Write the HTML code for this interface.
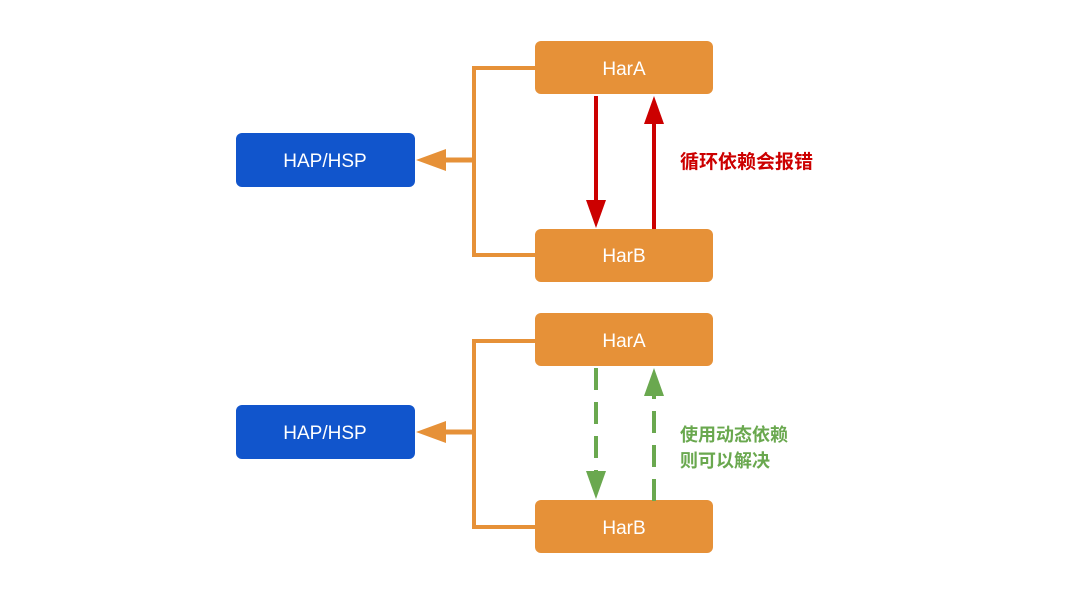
<!DOCTYPE html>
<html><head><meta charset="utf-8"><style>
body{margin:0;background:#fff;width:1080px;height:588px;overflow:hidden}
</style></head><body>
<svg width="1080" height="588" xmlns="http://www.w3.org/2000/svg" font-family="Liberation Sans, Noto Sans CJK SC, sans-serif">
<g>
<rect x="535" y="41" width="178" height="53" rx="6" fill="#e69138"/>
<rect x="535" y="229" width="178" height="53" rx="6" fill="#e69138"/>
<rect x="236" y="133" width="179" height="54" rx="6" fill="#1155cc"/>
<text x="624" y="75" font-size="19" fill="#fff" text-anchor="middle">HarA</text>
<text x="624" y="262" font-size="19" fill="#fff" text-anchor="middle">HarB</text>
<text x="325" y="167" font-size="19" fill="#fff" text-anchor="middle">HAP/HSP</text>
<path d="M535 68H474V255H535" fill="none" stroke="#e69138" stroke-width="4"/>
<line x1="474" y1="160" x2="444" y2="160" stroke="#e69138" stroke-width="5"/>
<polygon points="416,160 446,149 446,171" fill="#e69138"/>
<line x1="596" y1="96" x2="596" y2="202" stroke="#cc0000" stroke-width="4"/>
<polygon points="596,228 586,200 606,200" fill="#cc0000"/>
<line x1="654" y1="229" x2="654" y2="122" stroke="#cc0000" stroke-width="4"/>
<polygon points="654,96 644,124 664,124" fill="#cc0000"/>
<text x="680" y="168" font-size="19" font-weight="bold" fill="#cc0000">循环依赖会报错</text>
</g>
<g>
<rect x="535" y="313" width="178" height="53" rx="6" fill="#e69138"/>
<rect x="535" y="500" width="178" height="53" rx="6" fill="#e69138"/>
<rect x="236" y="405" width="179" height="54" rx="6" fill="#1155cc"/>
<text x="624" y="347" font-size="19" fill="#fff" text-anchor="middle">HarA</text>
<text x="624" y="534" font-size="19" fill="#fff" text-anchor="middle">HarB</text>
<text x="325" y="439" font-size="19" fill="#fff" text-anchor="middle">HAP/HSP</text>
<path d="M535 341H474V527H535" fill="none" stroke="#e69138" stroke-width="4"/>
<line x1="474" y1="432" x2="444" y2="432" stroke="#e69138" stroke-width="5"/>
<polygon points="416,432 446,421 446,443" fill="#e69138"/>
<line x1="596" y1="368" x2="596" y2="472" stroke="#6aa84f" stroke-width="4" stroke-dasharray="22,12"/>
<polygon points="596,499 586,471 606,471" fill="#6aa84f"/>
<line x1="654" y1="501" x2="654" y2="396" stroke="#6aa84f" stroke-width="4" stroke-dasharray="22,12"/>
<polygon points="654,368 644,396 664,396" fill="#6aa84f"/>
<text x="680" y="441" font-size="18" font-weight="bold" fill="#6aa84f">使用动态依赖</text>
<text x="680" y="467" font-size="18" font-weight="bold" fill="#6aa84f">则可以解决</text>
</g>
</svg>
</body></html>
